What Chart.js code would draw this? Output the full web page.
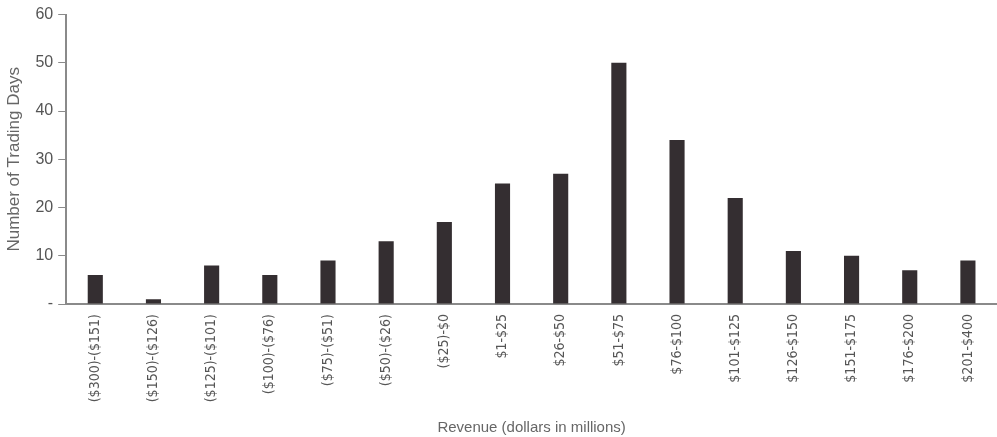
<!DOCTYPE html>
<html><head><meta charset="utf-8">
<script src="https://cdn.jsdelivr.net/npm/chart.js@4"></script>
<style>html,body{margin:0;padding:0;background:#fff}#wrap{width:997px;height:437px}</style>
</head><body><div id="wrap"><canvas id="c"></canvas></div>
<script>
const categories = ["($300)-($151)","($150)-($126)","($125)-($101)","($100)-($76)","($75)-($51)","($50)-($26)","($25)-$0","$1-$25","$26-$50","$51-$75","$76-$100","$101-$125","$126-$150","$151-$175","$176-$200","$201-$400"];
const tradingDays = [6,1,8,6,9,13,17,25,27,50,34,22,11,10,7,9];
const yTicks = [0,10,20,30,40,50,60];
const axisColor = '#8a8a8a';
new Chart(document.getElementById('c'), {
  type: 'bar',
  data: { labels: categories, datasets: [{ data: tradingDays, backgroundColor: '#342e31', categoryPercentage: 0.26, barPercentage: 1 }] },
  options: {
    responsive: true, maintainAspectRatio: false, animation: false,
    layout: { padding: { left: 4, right: 0, top: 7, bottom: 0 } },
    plugins: { legend: { display: false }, tooltip: { enabled: false } },
    scales: {
      x: {
        afterFit: s => { s.height = 133; },
        grid: { display: false },
        border: { display: true, color: axisColor, width: 2 },
        ticks: { color: '#555', font: { family: "'DejaVu Sans Condensed', 'Liberation Sans'", size: 14 }, minRotation: 90, maxRotation: 90, padding: 2 },
        title: { display: true, text: 'Revenue (dollars in millions)', color: '#666', font: { family: 'Liberation Sans', size: 15 }, padding: { top: 4, bottom: 0 } }
      },
      y: {
        min: 0, max: 60,
        afterBuildTicks: s => { s.ticks = yTicks.map(v => ({ value: v })); },
        grid: { drawOnChartArea: false, drawTicks: true, tickLength: 8, color: axisColor },
        border: { display: true, color: axisColor, width: 2 },
        ticks: { color: '#555', font: { family: 'Liberation Sans', size: 16 }, padding: 5, callback: v => v === 0 ? '-' : v },
        title: { display: true, text: 'Number of Trading Days', color: '#666', font: { family: 'Liberation Sans', size: 17 }, padding: { top: 0, bottom: 6 } }
      }
    }
  }
});
</script></body></html>
